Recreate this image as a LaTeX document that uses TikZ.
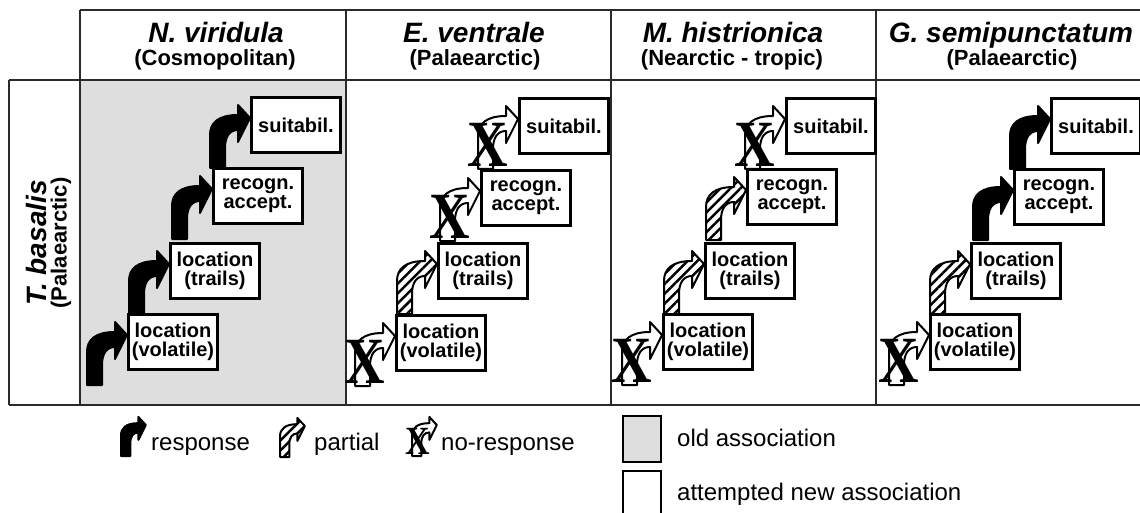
\documentclass[tikz,border=0pt]{standalone}
\usepackage{fontspec}
\setmainfont{Liberation Sans}
\newfontfamily\xfont{Liberation Serif}
\usetikzlibrary{patterns.meta}
\definecolor{oldgray}{HTML}{DEDEDE}
\definecolor{gridc}{HTML}{2A2A2A}
\tikzset{
  gridline/.style={line width=2pt, draw=gridc},
  stage/.style={draw, line width=3pt, fill=white, minimum width=89pt, minimum height=55pt,
    inner sep=0pt, align=center, anchor=north west, font=\fontsize{20}{19}\selectfont\bfseries},
  title/.style={anchor=base, inner sep=0pt, font=\fontsize{28}{28}\selectfont\bfseries\itshape},
  subtitle/.style={anchor=base, inner sep=0pt, font=\fontsize{22}{22}\selectfont\bfseries},
  legtext/.style={anchor=base west, inner sep=0pt, font=\fontsize{24}{24}\selectfont},
  resp/.style={fill=black},
  part/.style={preaction={fill=white}, pattern={Lines[angle=45,distance=7pt,line width=2.5pt]}},
  nresp/.style={fill=white},
  pics/arw/.style={code={
    \begin{scope}[yscale=-1]
      \draw[line width=2pt, line join=round, #1] (0,0) -- (15,0) -- (15,20)
        .. controls (15,32) and (20,38) .. (28,38) -- (28,26) -- (40,50) -- (28,63) -- (28,53)
        .. controls (8,53) and (0,45) .. (0,33) -- cycle;
    \end{scope}}},
  pics/noresp/.style={code={
    \begin{scope}[yscale=-1]
      \draw[line width=2pt, line join=round, nresp] (0,0) -- (15,0) -- (15,20)
        .. controls (15,32) and (20,38) .. (28,38) -- (28,26) -- (40,50) -- (28,63) -- (28,53)
        .. controls (8,53) and (0,45) .. (0,33) -- cycle;
      \node[inner sep=0pt, xscale=0.85, font=\fontsize{#1}{#1}\selectfont\xfont\bfseries] at (10,24) {X};
    \end{scope}}},
}
\begin{document}
\begin{tikzpicture}[x=1pt, y=-1pt]
\useasboundingbox (0,0) rectangle (1140,513);
% old association background
\fill[oldgray] (81,80) rectangle (346,405);
% grid
\draw[gridline] (80,10) -- (1140,10);
\draw[gridline] (9,80) -- (1140,80);
\draw[gridline] (9,405) -- (1140,405);
\draw[gridline] (9,80) -- (9,405);
\draw[gridline] (80,10) -- (80,405);
\draw[gridline] (346,10) -- (346,405);
\draw[gridline] (611,10) -- (611,405);
\draw[gridline] (876,10) -- (876,405);
% headers
\node[title] (h1) at (216,43) {N. viridula};
\node[subtitle] (s1) at (215,66) {(Cosmopolitan)};
\node[title] (h2) at (474,43) {E. ventrale};
\node[subtitle] (s2) at (475,66) {(Palaearctic)};
\node[title] (h3) at (733,43) {M. histrionica};
\node[subtitle] (s3) at (732,66) {(Nearctic - tropic)};
\node[title] (h4) at (1011,43) {G. semipunctatum};
\node[subtitle] (s4) at (1012,66) {(Palaearctic)};
\node[title, anchor=center, rotate=90] (row) at (36,243) {T. basalis};
\node[subtitle, anchor=center, rotate=90] (rows) at (61,243) {(Palaearctic)};
% stage anchors
\coordinate (V1) at (127,313); \coordinate (T1) at (169,242); \coordinate (R1) at (212,167); \coordinate (S1) at (250,96);
\coordinate (V2) at (395,314); \coordinate (T2) at (437,242); \coordinate (R2) at (480,169); \coordinate (S2) at (518,97);
\coordinate (V3) at (662,313); \coordinate (T3) at (704,242); \coordinate (R3) at (746,168); \coordinate (S3) at (785,97);
\coordinate (V4) at (929,313); \coordinate (T4) at (970,242); \coordinate (R4) at (1013,168); \coordinate (S4) at (1050,97);
% arrows panel 1
\pic at ([shift={(-40,72)}]V1) {arw=resp};
\pic at ([shift={(-40,72)}]T1) {arw=resp};
\pic at ([shift={(-40,72)}]R1) {arw=resp};
\pic at ([shift={(-40,72)}]S1) {arw=resp};
% panel 2
\pic at ([shift={(-40,72)}]V2) {noresp=66};
\pic at ([shift={(-40,72)}]T2) {arw=part};
\pic at ([shift={(-40,72)}]R2) {noresp=66};
\pic at ([shift={(-40,72)}]S2) {noresp=66};
% panel 3
\pic at ([shift={(-40,72)}]V3) {noresp=66};
\pic at ([shift={(-40,72)}]T3) {arw=part};
\pic at ([shift={(-40,72)}]R3) {arw=part};
\pic at ([shift={(-40,72)}]S3) {noresp=66};
% panel 4
\pic at ([shift={(-40,72)}]V4) {noresp=66};
\pic at ([shift={(-40,72)}]T4) {arw=part};
\pic at ([shift={(-40,72)}]R4) {arw=resp};
\pic at ([shift={(-40,72)}]S4) {arw=resp};
% boxes
\foreach \p in {1,2,3,4}{
  \node[stage] (v\p) at (V\p) {location\\(volatile)};
  \node[stage] (t\p) at (T\p) {location\\(trails)};
  \node[stage] (r\p) at (R\p) {recogn.\\accept.};
  \node[stage] (s\p) at (S\p) {suitabil.};
}
% legend
\coordinate (L1) at (121,456); \coordinate (L2) at (280,457); \coordinate (L3) at (412,456);
\pic[scale=0.62] at (L1) {arw=resp};
\node[legtext] (lt1) at (151,450) {response};
\pic[scale=0.62] at (L2) {arw=part};
\node[legtext] (lt2) at (314,450) {partial};
\pic[scale=0.62] at (L3) {noresp=40};
\node[legtext] (lt3) at (441,450) {no-response};
\draw[line width=2pt, fill=oldgray] (623,416) rectangle (661,462);
\node[legtext] (lo) at (677,446) {old association};
\draw[line width=2pt] (623,513) -- (623,471) -- (661,471) -- (661,513);
\node[legtext] (ln) at (677,500) {attempted new association};
\end{tikzpicture}
\end{document}
